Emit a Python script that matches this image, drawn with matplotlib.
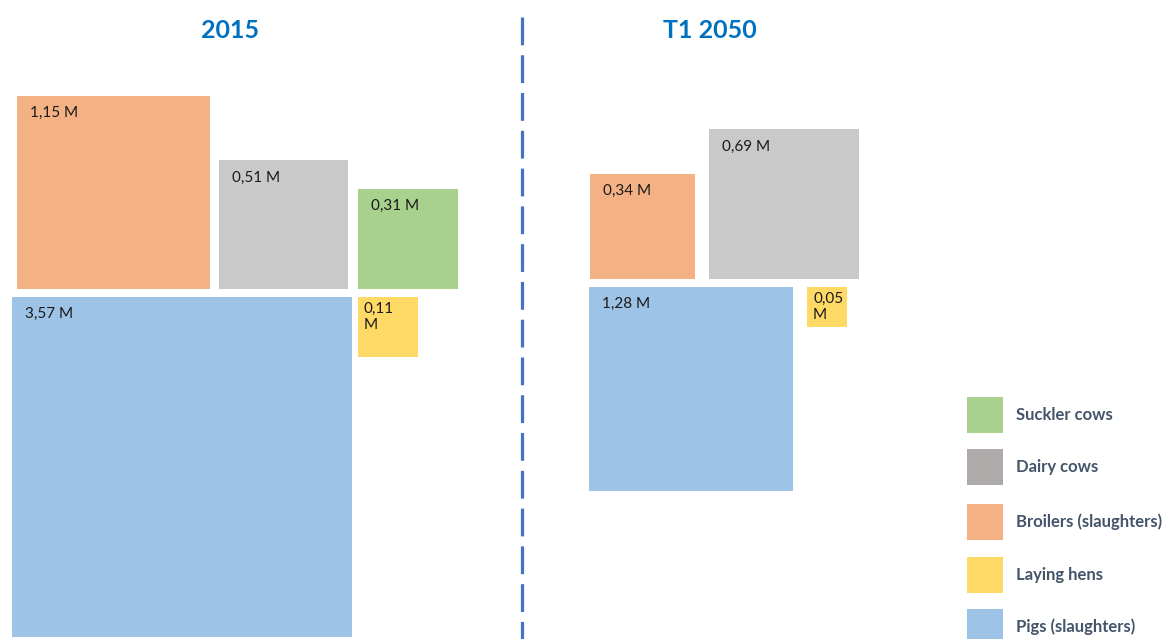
import numpy as np
import matplotlib
matplotlib.use("Agg")
import matplotlib.pyplot as plt
from matplotlib.patches import Rectangle

plt.rcParams['font.family'] = ['Lato', 'DejaVu Sans']
plt.rcParams['lines.scale_dashes'] = False

# data (millions of animals)
categories = ["Suckler cows", "Dairy cows", "Broilers (slaughters)", "Laying hens", "Pigs (slaughters)"]
colors = ["#A9D18E", "#C9C9C9", "#F4B183", "#FFD966", "#9DC3E6"]
legend_colors = ["#A9D18E", "#AEAAAA", "#F4B183", "#FFD966", "#9DC3E6"]
panels = ["2015", "T1 2050"]
values_2015 = [0.31, 0.51, 1.15, 0.11, 3.57]
values_2050 = [None, 0.69, 0.34, 0.05, 1.28]

# layout: left edge, row edge, and which edge is anchored (pixels)
layout_2015 = {
    "Broilers (slaughters)": (17, 289, "bottom"),
    "Dairy cows": (219, 289, "bottom"),
    "Suckler cows": (358, 289, "bottom"),
    "Pigs (slaughters)": (12, 297, "top"),
    "Laying hens": (358, 297, "top"),
}
layout_2050 = {
    "Broilers (slaughters)": (590, 279, "bottom"),
    "Dairy cows": (709, 279, "bottom"),
    "Pigs (slaughters)": (589, 287, "top"),
    "Laying hens": (807, 287, "top"),
}
title_x = [230, 710]
scale = 180.0  # side in px = scale * sqrt(value)


def fmt(v, side):
    s = f"{v:.2f}".replace(".", ",")
    return s + ("\nM" if side < 70 else " M")


fig = plt.figure(figsize=(11.66, 6.39), dpi=100)
ax = fig.add_axes([0, 0, 1, 1])
ax.set_xlim(0, 1166)
ax.set_ylim(639, 0)
ax.axis('off')

for vals, lay, tx, title in zip([values_2015, values_2050], [layout_2015, layout_2050], title_x, panels):
    ax.text(tx, 30, title, ha='center', va='center', fontsize=18, fontweight='bold', color='#0070C0')
    for cat, v, c in zip(categories, vals, colors):
        if v is None:
            continue
        side = scale * np.sqrt(v)
        x0, edge, mode = lay[cat]
        y0 = edge - side if mode == "bottom" else edge
        ax.add_patch(Rectangle((x0, y0), side, side, facecolor=c, edgecolor='none'))
        small = side < 70
        ax.text(x0 + (6 if small else 13), y0 + (5 if small else 10), fmt(v, side),
                ha='left', va='top', fontsize=11, color='#1a1a1a', linespacing=1.2)

# divider
ax.plot([522, 522], [17, 639], color='#4472C4', lw=2.3, dashes=(20, 7.2), solid_capstyle='butt')

# legend
leg_y = [415, 467, 522, 575, 627]
for cat, c, ly in zip(categories, legend_colors, leg_y):
    ax.add_patch(Rectangle((967, ly - 18), 36, 36, facecolor=c, edgecolor='none'))
    ax.text(1016, ly, cat, ha='left', va='center', fontsize=12, fontweight='bold', color='#44546A')

fig.savefig("out.png", dpi=100)
